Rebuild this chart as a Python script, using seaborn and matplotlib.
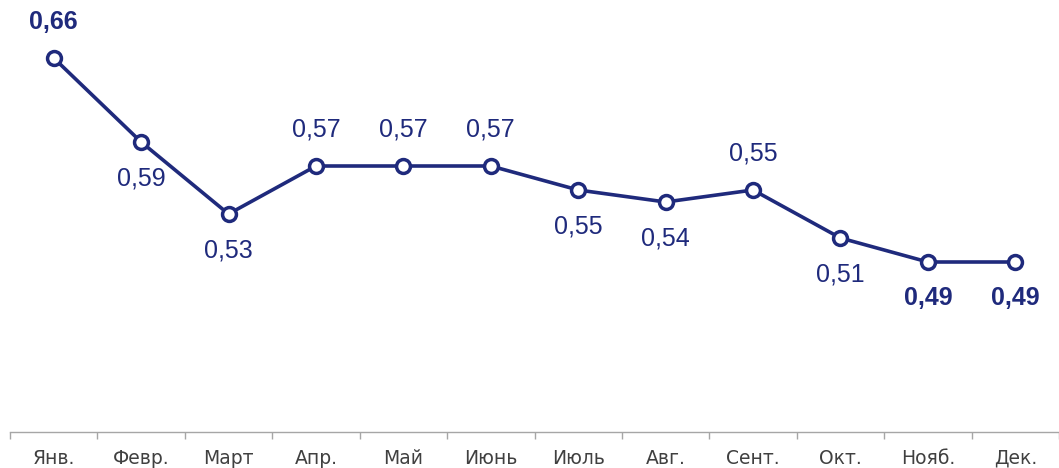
import numpy as np
import matplotlib
matplotlib.use("Agg")
import matplotlib.pyplot as plt
from matplotlib import font_manager
import seaborn as sns

months = ['Янв.', 'Февр.', 'Март', 'Апр.', 'Май', 'Июнь',
          'Июль', 'Авг.', 'Сент.', 'Окт.', 'Нояб.', 'Дек.']
values = [0.66, 0.59, 0.53, 0.57, 0.57, 0.57, 0.55, 0.54, 0.55, 0.51, 0.49, 0.49]
labels = ['0,66', '0,59', '0,53', '0,57', '0,57', '0,57',
          '0,55', '0,54', '0,55', '0,51', '0,49', '0,49']
above = [True, False, False, True, True, True, False, False, True, False, False, False]
bold = [True, False, False, False, False, False, False, False, False, False, True, True]

navy = '#1f2a7c'

# pick plain Liberation Sans files (not the Narrow ones)
def lib_font(weight):
    for f in font_manager.fontManager.ttflist:
        if f.name == 'Liberation Sans' and f.style == 'normal' and 'Narrow' not in f.fname:
            if (weight == 'bold') == (f.weight in (700, 'bold')):
                return font_manager.FontProperties(fname=f.fname, size=18)
    return font_manager.FontProperties(family='DejaVu Sans', weight=weight, size=18)

fp_reg = lib_font('normal')
fp_bold = lib_font('bold')

sns.set_style("white")
fig = plt.figure(figsize=(10.59, 4.68), dpi=100)
ax = fig.add_axes([10 / 1059, 36 / 468, 1 - 10 / 1059, 1 - 36 / 468])

x = np.arange(len(months))
sns.lineplot(x=x, y=values, ax=ax, color=navy, linewidth=2.6,
             marker='o', markersize=10, markerfacecolor='white',
             markeredgecolor=navy, markeredgewidth=2.5)

for i in range(len(values)):
    dy = 26 if above[i] else -26
    ax.annotate(labels[i], (x[i], values[i]), xytext=(0, dy),
                textcoords='offset points', ha='center', va='center',
                color=navy, fontproperties=fp_bold if bold[i] else fp_reg)

ax.set_xlim(-0.5, len(months) - 0.5)
ax.set_ylim(0.66 - 374 / 1200, 0.66 + 58 / 1200)
ax.set_yticks([])

ax.set_xticks(np.arange(-0.5, len(months)), labels=[])
ax.set_xticks(x, labels=months, minor=True)
ax.tick_params(axis='x', which='both', bottom=True)
ax.tick_params(axis='x', which='major', length=5, width=1, color='#a6a6a6', direction='out')
ax.tick_params(axis='x', which='minor', length=0, pad=12, labelsize=13.5, labelcolor='#404040')

for s in ['top', 'right', 'left']:
    ax.spines[s].set_visible(False)
ax.spines['bottom'].set_color('#a6a6a6')
ax.spines['bottom'].set_linewidth(1)

fig.savefig('out.png', dpi=100)
